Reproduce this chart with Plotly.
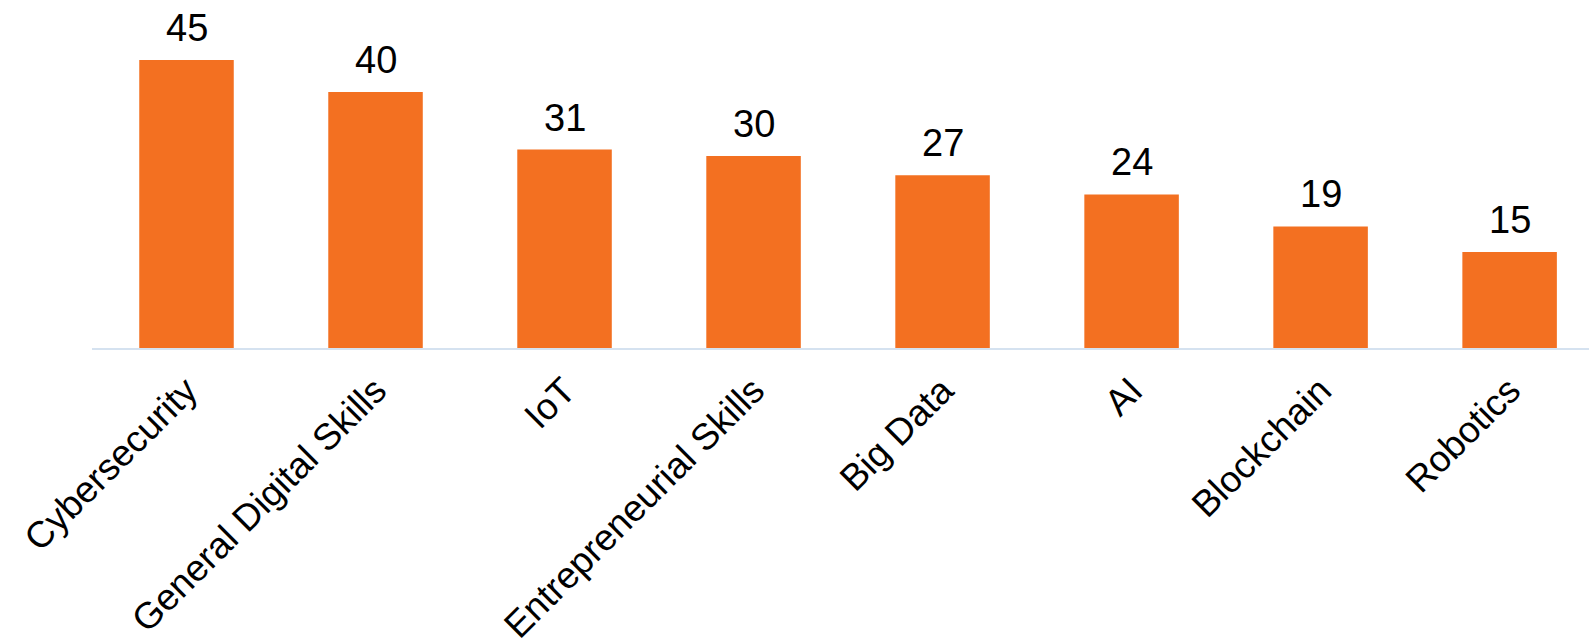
import plotly.graph_objects as go

categories = ["Cybersecurity", "General Digital Skills", "IoT", "Entrepreneurial Skills",
              "Big Data", "AI", "Blockchain", "Robotics"]
values = [45, 40, 31, 30, 27, 24, 19, 15]

FONT = "Arial, Liberation Sans, sans-serif"

xs = list(range(len(categories)))

fig = go.Figure()
fig.add_trace(go.Bar(
    x=xs,
    y=values,
    marker=dict(color="#F37021", line=dict(width=0)),
    width=0.5,
    hoverinfo="x+y",
))

for x, v in zip(xs, values):
    fig.add_annotation(
        x=x, y=v, xref="x", yref="y",
        text=str(v), showarrow=False,
        yanchor="bottom", yshift=9,
        font=dict(family=FONT, size=38, color="#000000"),
    )

fig.update_layout(
    width=1589, height=641,
    margin=dict(l=92, r=0, t=0, b=293, autoexpand=False),
    paper_bgcolor="white", plot_bgcolor="white",
    showlegend=False,
    xaxis=dict(
        tickmode="array",
        tickvals=xs,
        ticktext=categories,
        tickangle=-45,
        range=[-0.5, 7.42],
        automargin=False,
        showgrid=False, zeroline=False,
        showline=True, linecolor="#D5E2F0", linewidth=2,
        ticks="",
        ticklabelstandoff=4,
        tickfont=dict(family=FONT, size=37, color="#000000"),
    ),
    yaxis=dict(
        range=[0, 54.375],
        visible=False,
        automargin=False,
        showgrid=False, zeroline=False,
    ),
)

fig.write_html("out.html")
